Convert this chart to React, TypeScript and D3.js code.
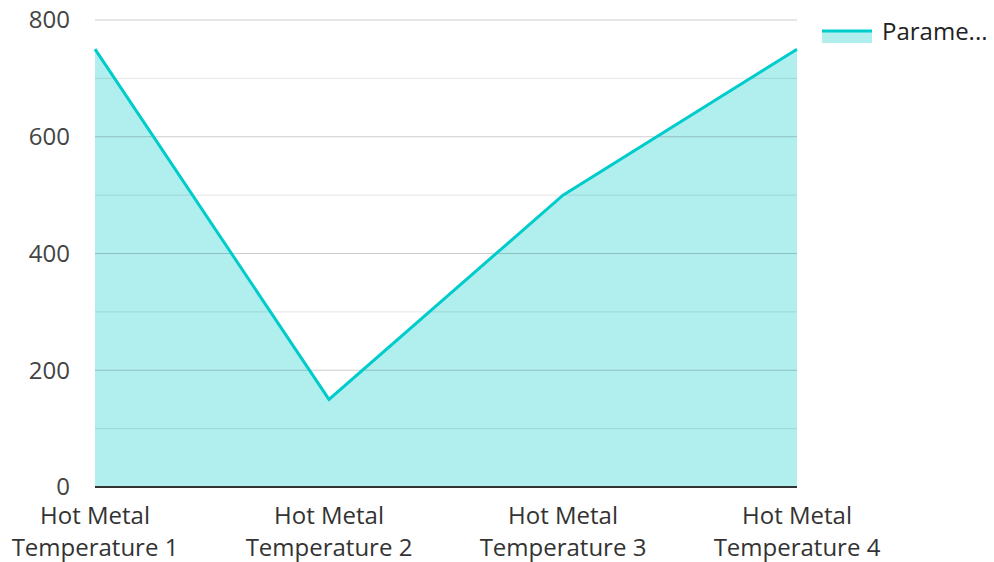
import React from "react";
import * as d3 from "d3";

const categories = [
  ["Hot Metal", "Temperature 1"],
  ["Hot Metal", "Temperature 2"],
  ["Hot Metal", "Temperature 3"],
  ["Hot Metal", "Temperature 4"],
];
const values = [750, 150, 500, 750];
const yTicks = [0, 200, 400, 600, 800];
const minorTicks = [100, 300, 500, 700];
const seriesName = "Parame...";

const W = 994;
const H = 562;
const left = 95;
const right = 797;
const top = 20;
const bottom = 487;
const font = "'Open Sans', 'Noto Sans', sans-serif";
const lineColor = "#00cccc";
const areaColor = "#b1efee";

export default function App() {
  const x = d3
    .scalePoint<number>()
    .domain(d3.range(values.length))
    .range([left, right]);
  const y = d3.scaleLinear().domain([0, 800]).range([bottom, top]);

  const pts = values.map((v, i) => [x(i) as number, y(v)] as [number, number]);
  const line = d3.line()(pts) || "";
  const area =
    d3
      .area<[number, number]>()
      .x((d) => d[0])
      .y0(y(0))
      .y1((d) => d[1])(pts) || "";

  return (
    <svg
      width={W}
      height={H}
      style={{ position: "absolute", left: 0, top: 0, display: "block" }}
      fontFamily={font}
    >
      <rect width={W} height={H} fill="#fff" />
      <path d={area} fill={areaColor} />
      {minorTicks.map((t) => (
        <line
          key={"m" + t}
          x1={left}
          x2={right}
          y1={y(t)}
          y2={y(t)}
          stroke="rgba(0,0,0,0.1)"
          strokeWidth={1}
        />
      ))}
      {yTicks
        .filter((t) => t !== 0)
        .map((t) => (
          <line
            key={"g" + t}
            x1={left}
            x2={right}
            y1={y(t)}
            y2={y(t)}
            stroke="rgba(0,0,0,0.2)"
            strokeWidth={1}
          />
        ))}
      <path
        d={line}
        fill="none"
        stroke={lineColor}
        strokeWidth={3}
        strokeLinejoin="miter"
      />
      <line
        x1={left}
        x2={right}
        y1={y(0)}
        y2={y(0)}
        stroke="#333"
        strokeWidth={2}
      />
      {yTicks.map((t) => (
        <text
          key={"y" + t}
          x={70}
          y={y(t)}
          dy="0.35em"
          textAnchor="end"
          fontSize={24}
          fill="#444"
        >
          {t}
        </text>
      ))}
      {categories.map((c, i) => (
        <text
          key={"x" + i}
          x={x(i) as number}
          y={524}
          textAnchor="middle"
          fontSize={24}
          fill="#333"
        >
          <tspan x={x(i) as number}>{c[0]}</tspan>
          <tspan x={x(i) as number} dy={32}>
            {c[1]}
          </tspan>
        </text>
      ))}
      <g transform="translate(822,0)">
        <rect x={0} y={31} width={50} height={12} fill={areaColor} />
        <line x1={0} x2={50} y1={31} y2={31} stroke={lineColor} strokeWidth={3} />
        <text x={60} y={32} dy="0.35em" fontSize={24} fill="#222">
          {seriesName}
        </text>
      </g>
    </svg>
  );
}
